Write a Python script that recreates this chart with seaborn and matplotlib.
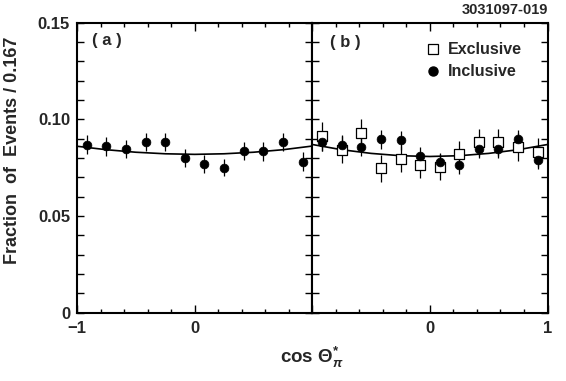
#!/usr/bin/env python3
"""Angular distribution of the pion in the tau rest frame, panels (a) and (b)."""

import matplotlib
matplotlib.use("Agg")
import matplotlib.pyplot as plt
from matplotlib.lines import Line2D
from matplotlib.ticker import MultipleLocator, FixedLocator
import seaborn as sns

# bin centres of cos(theta*) (width 0.167)
cos_bins = [-0.917, -0.75, -0.583, -0.417, -0.25, -0.083,
            0.083, 0.25, 0.417, 0.583, 0.75, 0.917]

# panel (a): inclusive sample
frac_a = [0.0870, 0.0861, 0.0846, 0.0884, 0.0881, 0.0801,
          0.0768, 0.0751, 0.0836, 0.0834, 0.0884, 0.0780]
err_a = [0.0048, 0.0048, 0.0047, 0.0047, 0.0047, 0.0046,
         0.0046, 0.0046, 0.0047, 0.0047, 0.0048, 0.0049]

# panel (b): exclusive and inclusive samples
frac_excl = [0.0913, 0.0844, 0.0932, 0.0746, 0.0794, 0.0763,
             0.0753, 0.0819, 0.0882, 0.0882, 0.0858, 0.0830]
err_excl = [0.0075, 0.0072, 0.0070, 0.0068, 0.0068, 0.0068,
            0.0068, 0.0068, 0.0070, 0.0070, 0.0072, 0.0075]
frac_incl = [0.0882, 0.0870, 0.0858, 0.0896, 0.0891, 0.0813,
             0.0780, 0.0765, 0.0846, 0.0846, 0.0896, 0.0791]
err_incl = [0.0048, 0.0048, 0.0047, 0.0047, 0.0047, 0.0046,
            0.0046, 0.0046, 0.0047, 0.0047, 0.0048, 0.0049]

# fitted curves
curve_x = [-1.0, -0.75, -0.5, -0.25, 0.0, 0.25, 0.5, 0.75, 1.0]
curve_a = [0.0861, 0.0843, 0.0830, 0.0822, 0.0819, 0.0822, 0.0830, 0.0843, 0.0862]
curve_b = [0.0870, 0.0843, 0.0824, 0.0812, 0.0808, 0.0812, 0.0824, 0.0843, 0.0870]

sns.set_style("ticks")
plt.rcParams["font.family"] = ["Liberation Sans", "DejaVu Sans"]
plt.rcParams["font.weight"] = "bold"
plt.rcParams["mathtext.fontset"] = "custom"
plt.rcParams["mathtext.rm"] = "Liberation Sans:bold"
plt.rcParams["mathtext.bf"] = "Liberation Sans:bold"
plt.rcParams["mathtext.it"] = "Liberation Sans:italic"

W, H = 566, 381
fig = plt.figure(figsize=(W / 100, H / 100), dpi=100)
left, mid, right = 77, 312.3, 547.5
top, bottom = 22.7, 312.7
ax_a = fig.add_axes([left / W, 1 - bottom / H, (mid - left) / W, (bottom - top) / H])
ax_b = fig.add_axes([mid / W, 1 - bottom / H, (right - mid) / W, (bottom - top) / H])


def style_axis(ax, xlabels):
    ax.set_xlim(-1, 1)
    ax.set_ylim(0, 0.15)
    for sp in ax.spines.values():
        sp.set_visible(True)
        sp.set_linewidth(1.5)
        sp.set_color("black")
    ax.xaxis.set_major_locator(FixedLocator([-1, 0, 1]))
    ax.xaxis.set_minor_locator(MultipleLocator(0.2))
    ax.yaxis.set_major_locator(FixedLocator([0, 0.05, 0.10, 0.15]))
    ax.yaxis.set_minor_locator(MultipleLocator(0.01))
    ax.set_xticklabels(xlabels)
    ax.tick_params(which="both", direction="in", top=True, right=True,
                   width=1.0, color="black", labelsize=12)
    ax.tick_params(axis="x", which="major", length=6, pad=6)
    ax.tick_params(axis="x", which="minor", length=3)
    ax.tick_params(axis="y", which="major", length=5, pad=5)
    ax.tick_params(axis="y", which="minor", length=5)
    ax.grid(False)
    ax.set_xlabel("")
    ax.set_ylabel("")
    for lab in ax.get_xticklabels() + ax.get_yticklabels():
        lab.set_fontweight("bold")


# panel (a)
sns.lineplot(x=curve_x, y=curve_a, ax=ax_a, color="black", linewidth=1.2)
ax_a.errorbar(cos_bins, frac_a, yerr=err_a, fmt="none", ecolor="black", elinewidth=0.9)
sns.scatterplot(x=cos_bins, y=frac_a, ax=ax_a, color="black", marker="o",
                s=40, edgecolor="black", linewidth=0.5, zorder=3)
style_axis(ax_a, ["\u22121", "0", ""])
ax_a.set_yticklabels(["0", "0.05", "0.10", "0.15"])
ax_a.text(0.065, 0.965, "( a )", transform=ax_a.transAxes, fontsize=12,
          fontweight="bold", va="top", ha="left")

# panel (b)
sns.lineplot(x=curve_x, y=curve_b, ax=ax_b, color="black", linewidth=1.2)
ax_b.errorbar(cos_bins, frac_excl, yerr=err_excl, fmt="none", ecolor="black", elinewidth=0.9)
sns.scatterplot(x=cos_bins, y=frac_excl, ax=ax_b, marker="s", s=50,
                facecolor="white", edgecolor="black", linewidth=0.9, zorder=3)
ax_b.errorbar(cos_bins, frac_incl, yerr=err_incl, fmt="none", ecolor="black", elinewidth=0.9)
sns.scatterplot(x=cos_bins, y=frac_incl, ax=ax_b, color="black", marker="o",
                s=40, edgecolor="black", linewidth=0.5, zorder=4)
style_axis(ax_b, ["", "0", "1"])
ax_b.set_yticklabels([])
ax_b.text(0.075, 0.958, "( b )", transform=ax_b.transAxes, fontsize=12,
          fontweight="bold", va="top", ha="left")

handles = [
    Line2D([], [], linestyle="none", marker="s", markersize=6.5,
           markerfacecolor="white", markeredgecolor="black", markeredgewidth=0.9),
    Line2D([], [], linestyle="none", marker="o", markersize=6.5,
           markerfacecolor="black", markeredgecolor="black"),
]
ax_b.legend(handles, ["Exclusive", "Inclusive"], loc="upper left",
            bbox_to_anchor=(0.45, 0.955), frameon=False, borderaxespad=0,
            handlelength=1.0, handletextpad=0.45, labelspacing=0.45,
            prop={"size": 11.5, "weight": "bold"})

fig.text(13 / W, 1 - 150 / H, "Fraction  of  Events / 0.167", rotation=90,
         ha="center", va="center", fontsize=13, fontweight="bold")
fig.text(312 / W, 1 - 357 / H, r"cos $\Theta^{*}_{\pi}$", ha="center", va="center",
         fontsize=13.5, fontweight="bold")
fig.text(548 / W, 1 - 10 / H, "3031097-019", ha="right", va="center",
         fontsize=10.5, fontweight="bold")

fig.savefig("out.png", dpi=100)
